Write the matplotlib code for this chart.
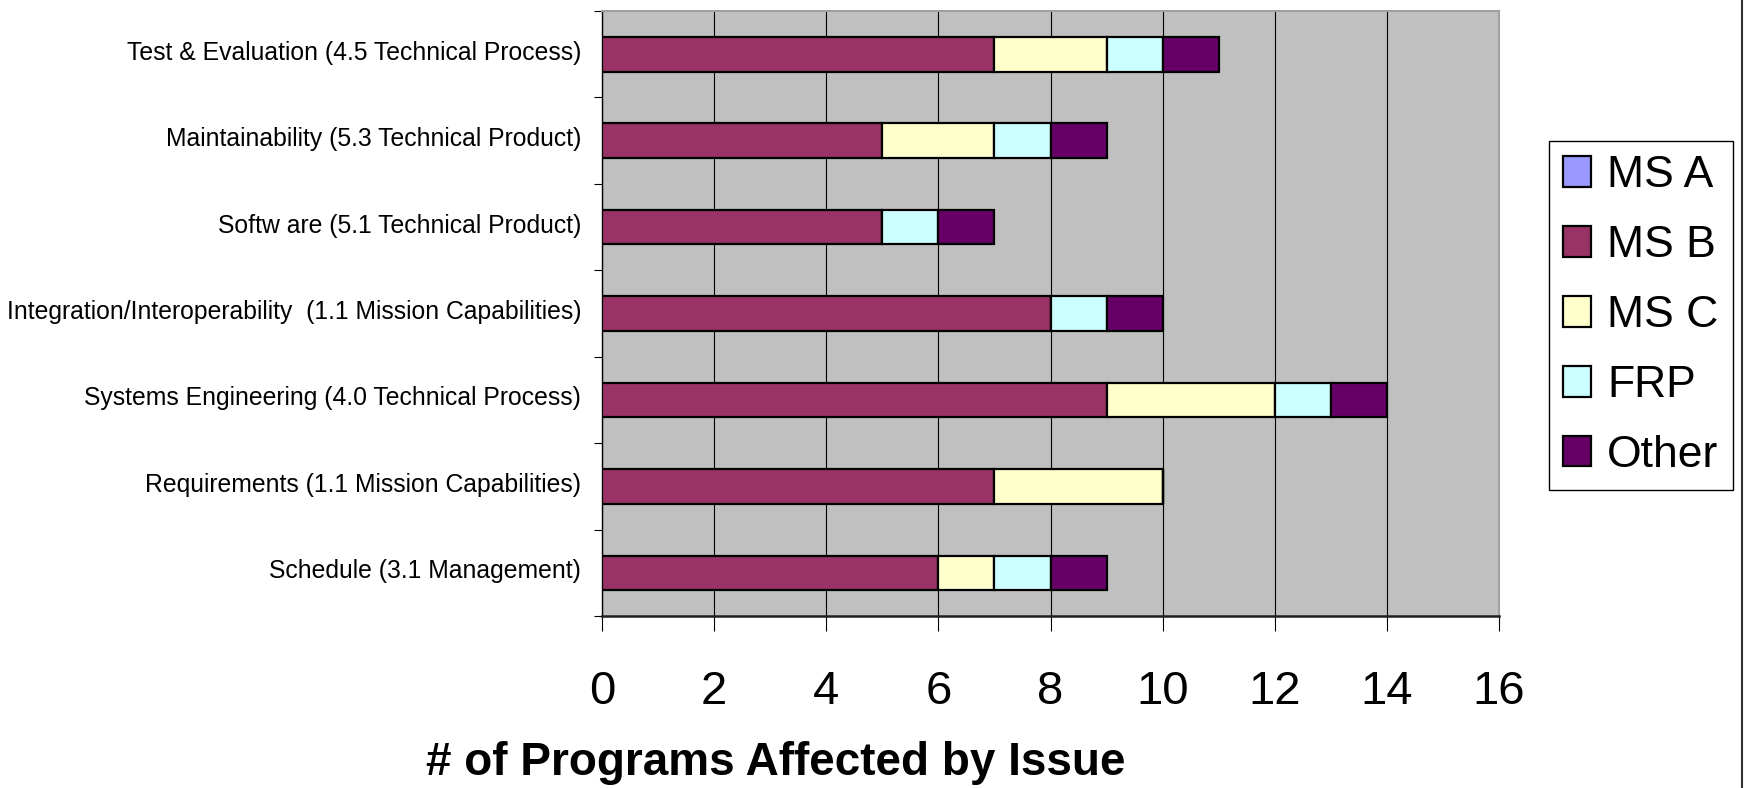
import numpy as np
import matplotlib
matplotlib.use("Agg")
import matplotlib.pyplot as plt
from matplotlib.lines import Line2D
from matplotlib.transforms import ScaledTranslation

plt.rcParams['font.family'] = ['Liberation Sans', 'DejaVu Sans']

# Issue categories, bottom to top
categories = [
    "Schedule (3.1 Management)",
    "Requirements (1.1 Mission Capabilities)",
    "Systems Engineering (4.0 Technical Process)",
    "Integration/Interoperability  (1.1 Mission Capabilities)",
    "Softw are (5.1 Technical Product)",
    "Maintainability (5.3 Technical Product)",
    "Test & Evaluation (4.5 Technical Process)",
]

series_names = ["MS A", "MS B", "MS C", "FRP", "Other"]
ms_a = [0, 0, 0, 0, 0, 0, 0]
ms_b = [6, 7, 9, 8, 5, 5, 7]
ms_c = [1, 3, 3, 0, 0, 2, 2]
frp = [1, 0, 1, 1, 1, 1, 1]
other = [1, 0, 1, 1, 1, 1, 1]
series_values = [ms_a, ms_b, ms_c, frp, other]
series_colors = ["#9999FF", "#993366", "#FFFFCC", "#CCFFFF", "#660066"]

x_ticks = [0, 2, 4, 6, 8, 10, 12, 14, 16]
x_label = "# of Programs Affected by Issue"

W, H = 1747, 788
fig = plt.figure(figsize=(W / 100, H / 100), dpi=100)
fig.patch.set_facecolor("white")

ax = fig.add_axes([602 / W, 1 - 616 / H, (1499 - 602) / W, (616 - 11) / H])
ax.set_facecolor("#C0C0C0")

y = np.arange(len(categories))
left = np.zeros(len(categories))
for name, vals, col in zip(series_names, series_values, series_colors):
    vals = np.asarray(vals, dtype=float)
    ax.barh(y, vals, left=left, height=0.4, color=col, edgecolor="black",
            linewidth=1.6, label=name, zorder=3)
    left += vals

ax.set_xlim(0, 16)
ax.set_ylim(-0.5, len(categories) - 0.5)

# vertical gridlines
ax.set_xticks(x_ticks)
ax.set_xticklabels([str(t) for t in x_ticks], fontsize=34)
ax.xaxis.grid(True, color="black", linewidth=0.8, zorder=1)
ax.set_axisbelow(True)
ax.tick_params(axis="x", direction="out", length=11, width=0.8, color="black", pad=28)

ax.set_yticks(y)
ax.set_yticklabels(categories, fontsize=17.8)
ax.set_yticks(np.arange(-0.5, len(categories), 1.0), minor=True)
ax.tick_params(axis="y", which="major", length=0, pad=15)
ax.tick_params(axis="y", which="minor", direction="out", length=6, width=0.8, color="black")
lift = ScaledTranslation(0, 4 / 100, fig.dpi_scale_trans)
for lbl in ax.get_yticklabels():
    lbl.set_transform(lbl.get_transform() + lift)

for side in ("top", "right"):
    ax.spines[side].set_color("#A0A0A0")
    ax.spines[side].set_linewidth(1.5)
ax.spines["left"].set_color("black")
ax.spines["left"].set_linewidth(1.0)
ax.spines["bottom"].set_color("#202020")
ax.spines["bottom"].set_linewidth(1.8)

fig.text(776 / W, 1 - 763 / H, x_label, fontsize=33, fontweight="bold",
         ha="center", va="center")

leg = ax.legend(loc="upper left", bbox_to_anchor=(1549 / W, 1 - 141 / H),
                bbox_transform=fig.transFigure, fontsize=32, frameon=True,
                fancybox=False, edgecolor="black", framealpha=1,
                handlelength=0.63, handleheight=0.68, handletextpad=0.36,
                labelspacing=0.65, borderpad=0.32, borderaxespad=0)
leg.get_frame().set_linewidth(1.0)

# slide border at the right edge
fig.add_artist(Line2D([1742 / W, 1742 / W], [0, 1], transform=fig.transFigure,
                      color="#303030", linewidth=1.5))

fig.savefig("out.png", dpi=100)
